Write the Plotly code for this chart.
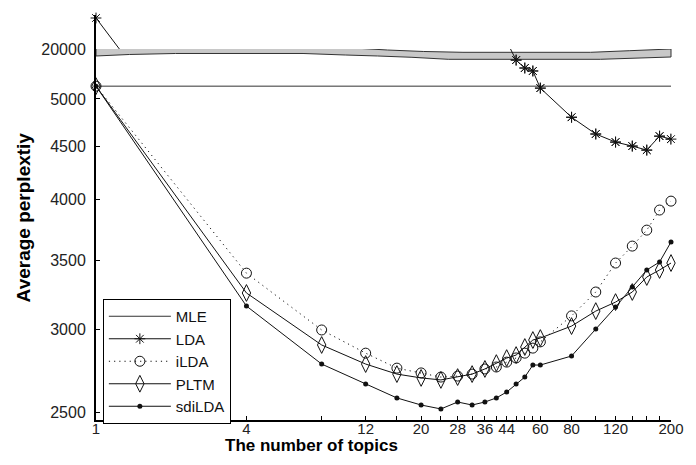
import math
import plotly.graph_objects as go

# ---------------- data ----------------
TOPICS = [1, 4, 8, 12, 16, 20, 24, 28, 32, 36, 40, 44, 48, 52, 56, 60, 80, 100, 120, 140, 160, 180, 200]
X_TICK_TEXT = ["1", "4", "", "12", "", "20", "", "28", "", "36", "", "44", "", "", "", "60", "80", "", "120", "", "", "", "200"]

MLE = [5144, 5144, 5144, 5144, 5144, 5144, 5144, 5144, 5144, 5144, 5144, 5144,
       5144, 5144, 5144, 5144, 5144, 5144, 5144, 5144, 5144, 5144, 5144]
# LDA values for 4..44 lie inside the axis break (hidden); estimated
LDA = [25000, 5950, 5900, 5870, 5840, 5810, 5790, 5770, 5750, 5730, 5710, 5680,
       5450, 5355, 5320, 5122, 4802, 4627, 4545, 4505, 4465, 4605, 4575]
ILDA = [5144, 3400, 2998, 2848, 2755, 2726, 2701, 2707, 2719, 2750, 2762, 2792,
        2818, 2848, 2880, 2920, 3093, 3261, 3477, 3610, 3740, 3910, 3988]
PLTM = [5144, 3254, 2900, 2780, 2719, 2696, 2684, 2701, 2719, 2750, 2786, 2817,
        2836, 2887, 2932, 2945, 3024, 3126, 3189, 3261, 3371, 3424, 3477]
SDILDA = [5144, 3161, 2780, 2660, 2579, 2539, 2517, 2556, 2539, 2556, 2579, 2613,
          2660, 2701, 2774, 2774, 2830, 3004, 3154, 3297, 3424, 3485, 3643]

LOWER_TICKS = [2500, 3000, 3500, 4000, 4500, 5000]
UPPER_TICKS = [20000]

# ---------------- layout constants ----------------
W, H = 696, 465
ML, MR, MT, MB = 96, 14, 15, 45
PW, PH = W - ML - MR, H - MT - MB


def px_x(p):
    return (p - ML) / PW


def px_y(p):
    return (H - MB - p) / PH


LOWER_RANGE = [3.39025, 3.74801]
UPPER_RANGE = [4.3010, 4.40731]
LOWER_DOMAIN = [0, px_y(48)]
UPPER_DOMAIN = [px_y(49), 1]

TICK_FONT = dict(family="Liberation Sans, Arial", size=16, color="#222")
XTICK_FONT = dict(family="Liberation Sans, Arial", size=15, color="#222")
LINE_C = "#111"

fig = go.Figure()

# MLE
fig.add_trace(go.Scatter(x=TOPICS, y=MLE, mode="lines", name="MLE",
                         line=dict(color="#333", width=1), yaxis="y"))

# LDA (lower part + upper part of broken axis)
lda_marker = dict(symbol="asterisk-open", size=9, color=LINE_C, line=dict(width=1, color=LINE_C))
fig.add_trace(go.Scatter(x=TOPICS, y=LDA, mode="lines+markers", name="LDA",
                         line=dict(color=LINE_C, width=1), marker=lda_marker,
                         yaxis="y", cliponaxis=True))
lo_min, lo_max = 10 ** LOWER_RANGE[0], 10 ** LOWER_RANGE[1]
up_min, up_max = 10 ** UPPER_RANGE[0], 10 ** UPPER_RANGE[1]
lx = [x for x, v in zip(TOPICS, LDA) if lo_min <= v <= lo_max]
ly = [v for v in LDA if lo_min <= v <= lo_max]
fig.add_trace(go.Scatter(x=lx, y=ly, mode="markers", showlegend=False, marker=lda_marker,
                         yaxis="y", cliponaxis=False, hoverinfo="skip"))
fig.add_trace(go.Scatter(x=TOPICS, y=LDA, mode="lines", showlegend=False,
                         line=dict(color=LINE_C, width=1), yaxis="y2", cliponaxis=True))
ux = [x for x, v in zip(TOPICS, LDA) if up_min <= v <= up_max]
uy = [v for v in LDA if up_min <= v <= up_max]
fig.add_trace(go.Scatter(x=ux, y=uy, mode="markers", showlegend=False, marker=lda_marker,
                         yaxis="y2", cliponaxis=False, hoverinfo="skip"))

# iLDA
fig.add_trace(go.Scatter(x=TOPICS, y=ILDA, mode="lines+markers", name="iLDA",
                         line=dict(color=LINE_C, width=1, dash="1.2px,4px"),
                         marker=dict(symbol="circle-open", size=10, color=LINE_C, line=dict(width=1)),
                         yaxis="y", cliponaxis=False))
# PLTM
fig.add_trace(go.Scatter(x=TOPICS, y=PLTM, mode="lines+markers", name="PLTM",
                         line=dict(color=LINE_C, width=1),
                         marker=dict(symbol="diamond-tall-open", size=12, color=LINE_C, line=dict(width=1)),
                         yaxis="y", cliponaxis=False))
# sdiLDA
fig.add_trace(go.Scatter(x=TOPICS, y=SDILDA, mode="lines+markers", name="sdiLDA",
                         line=dict(color=LINE_C, width=1),
                         marker=dict(symbol="circle", size=5, color=LINE_C),
                         yaxis="y", cliponaxis=False))

# axis-break band
top_edge = [(96, 48.3), (113, 48), (163, 46), (323, 46), (350, 47.5), (393, 50), (430, 51.5),
            (470, 52.3), (600, 52.3), (640, 50.7), (682, 49)]
bot_edge = [(96, 56), (130, 54.5), (177, 53.5), (307, 53.5), (350, 55), (383, 56), (418, 57.3),
            (455, 59.3), (610, 59.3), (682, 57)]
pts = top_edge + bot_edge[::-1]
path = "M " + " L ".join(f"{px_x(a):.5f},{px_y(b):.5f}" for a, b in pts) + " Z"

fig.update_layout(
    width=W, height=H,
    margin=dict(l=ML, r=MR, t=MT, b=MB),
    paper_bgcolor="white", plot_bgcolor="white",
    showlegend=True,
    xaxis=dict(type="log", range=[0, math.log10(200)], domain=[0, 1], anchor="y",
               tickvals=TOPICS, ticktext=X_TICK_TEXT, ticks="inside", ticklen=4,
               tickcolor="#000", showline=True, linewidth=2, linecolor="#000",
               showgrid=False, zeroline=False, tickfont=XTICK_FONT,
               ticklabelstandoff=-6),
    yaxis=dict(type="log", domain=LOWER_DOMAIN, range=LOWER_RANGE, anchor="x",
               tickvals=LOWER_TICKS, ticktext=[str(v) for v in LOWER_TICKS],
               ticks="inside", ticklen=4, tickcolor="#000", showline=True, linewidth=2,
               linecolor="#000", showgrid=False, zeroline=False, tickfont=TICK_FONT,
               ticklabelstandoff=5),
    yaxis2=dict(type="log", domain=UPPER_DOMAIN, range=UPPER_RANGE, anchor="x",
                tickvals=UPPER_TICKS, ticktext=[str(v) for v in UPPER_TICKS],
                ticks="", showline=True, linewidth=2,
                linecolor="#000", showgrid=False, zeroline=False, tickfont=TICK_FONT,
                ticklabelstandoff=5),
    legend=dict(x=px_x(103), y=px_y(299), xanchor="left", yanchor="top",
                bgcolor="white", bordercolor="#000", borderwidth=1,
                font=dict(family="Liberation Sans, Arial", size=15, color="#111"),
                itemwidth=62, tracegroupgap=0),
    shapes=[dict(type="path", xref="paper", yref="paper", path=path,
                 fillcolor="#c8c8c8", line=dict(color="#333", width=1), layer="below")],
    annotations=[
        dict(text="The number of topics", xref="paper", yref="paper",
             x=px_x(316), y=px_y(445), xanchor="center", yanchor="middle", showarrow=False,
             font=dict(family="Liberation Sans, Arial", size=17, color="#000", weight="bold")),
        dict(text="Average perplextiy", xref="paper", yref="paper", textangle=-90,
             x=px_x(22), y=px_y(217), xanchor="center", yanchor="middle", showarrow=False,
             font=dict(family="Liberation Sans, Arial", size=19, color="#000", weight="bold")),
    ],
)

fig.write_html("out.html", config={"displayModeBar": False},
               post_script="document.body.style.margin='0';")
